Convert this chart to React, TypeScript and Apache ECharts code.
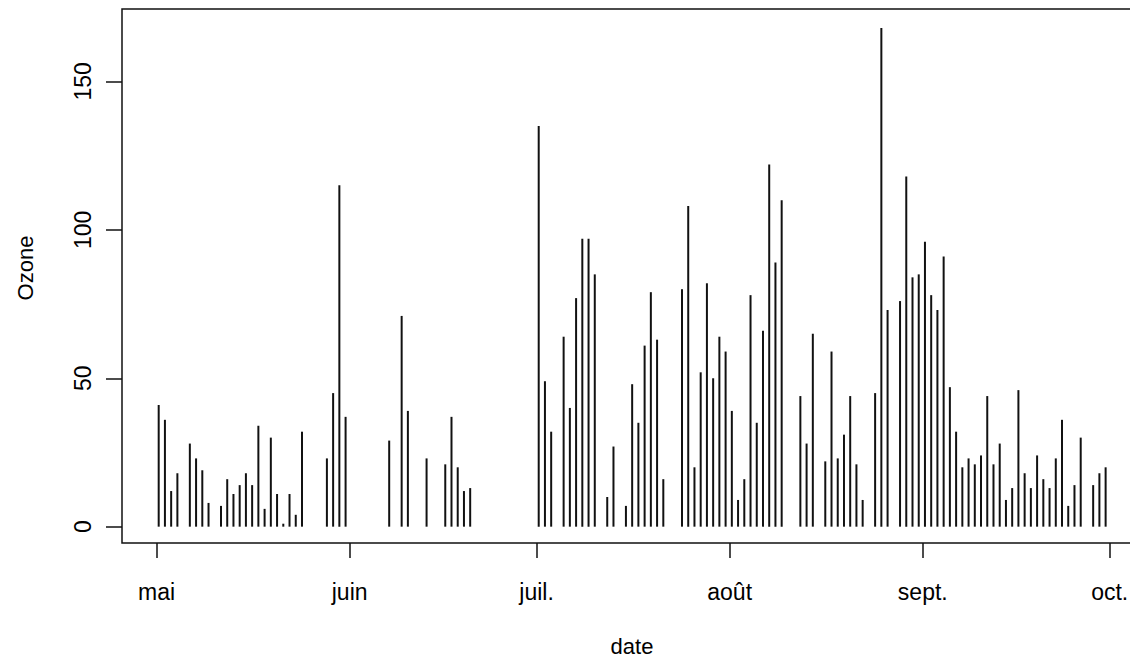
import React, { useEffect, useRef } from "react";
import * as echarts from "echarts";

const mayOzone = [41, 36, 12, 18, null, 28, 23, 19, 8, null, 7, 16, 11, 14, 18, 14, 34, 6, 30, 11, 1, 11, 4, 32, null, null, null, 23, 45, 115, 37];
const juneOzone = [null, null, null, null, null, null, 29, null, 71, 39, null, null, 23, null, null, 21, 37, 20, 12, 13, null, null, null, null, null, null, null, null, null, null];
const julyOzone = [135, 49, 32, null, 64, 40, 77, 97, 97, 85, null, 10, 27, null, 7, 48, 35, 61, 79, 63, 16, null, null, 80, 108, 20, 52, 82, 50, 64, 59];
const augustOzone = [39, 9, 16, 78, 35, 66, 122, 89, 110, null, null, 44, 28, 65, null, 22, 59, 23, 31, 44, 21, 9, null, 45, 168, 73, null, 76, 118, 84, 85];
const septemberOzone = [96, 78, 73, 91, 47, 32, 20, 23, 21, 24, 44, 21, 28, 9, 13, 46, 18, 13, 24, 16, 13, 23, 36, 7, 14, 30, null, 14, 18, 20];

const monthTickDays = [0, 31, 61, 92, 123, 153];
const monthTickLabels = ["mai", "juin", "juil.", "août", "sept.", "oct."];
const yTickValues = [0, 50, 100, 150];
const xTitle = "date";
const yTitle = "Ozone";

const FONT = "'Liberation Sans', Arial, sans-serif";
const TICK_SHIFT = -0.35;

export default function App() {
  const ref = useRef<HTMLDivElement>(null);

  useEffect(() => {
    if (!ref.current) return;
    const chart = echarts.init(ref.current, null, { renderer: "svg" });

    const months = [mayOzone, juneOzone, julyOzone, augustOzone, septemberOzone];
    const data: [number, number][] = [];
    let offset = 0;
    months.forEach((m) => {
      m.forEach((v, i) => {
        if (v !== null) data.push([offset + i, v as number]);
      });
      offset += m.length;
    });

    const tickPos = monthTickDays.map((d) => d + TICK_SHIFT);

    chart.setOption({
      animation: false,
      backgroundColor: "#ffffff",
      grid: {
        left: 122,
        right: 16.5,
        top: 9,
        bottom: 116,
        show: true,
        borderColor: "#111",
        borderWidth: 1.5,
        backgroundColor: "transparent",
      },
      xAxis: {
        type: "value",
        min: -5.89,
        max: 158.08,
        axisLine: { show: false, onZero: false },
        splitLine: { show: false },
        axisTick: {
          show: true,
          customValues: tickPos,
          length: 15,
          lineStyle: { color: "#111", width: 1.5 },
        },
        axisLabel: {
          show: true,
          customValues: tickPos,
          margin: 37,
          fontSize: 23,
          fontFamily: FONT,
          color: "#000",
          formatter: (v: number) => {
            const idx = tickPos.findIndex((t) => Math.abs(t - v) < 0.01);
            return idx >= 0 ? monthTickLabels[idx] : "";
          },
        },
      },
      yAxis: {
        type: "value",
        min: -5.5,
        max: 174.4,
        axisLine: { show: false, onZero: false },
        splitLine: { show: false },
        axisTick: {
          show: true,
          customValues: yTickValues,
          length: 16,
          lineStyle: { color: "#111", width: 1.5 },
        },
        axisLabel: {
          show: true,
          customValues: yTickValues,
          rotate: 90,
          margin: 28,
          fontSize: 23,
          fontFamily: FONT,
          color: "#000",
        },
      },
      graphic: [
        {
          type: "text",
          x: 632,
          y: 646.5,
          style: {
            text: xTitle,
            font: `22px ${FONT}`,
            fill: "#000",
            align: "center",
            verticalAlign: "middle",
          },
        },
        {
          type: "text",
          x: 25,
          y: 268,
          rotation: Math.PI / 2,
          style: {
            text: yTitle,
            font: `22px ${FONT}`,
            fill: "#000",
            align: "center",
            verticalAlign: "middle",
          },
        },
      ],
      series: [
        {
          type: "bar",
          data,
          barWidth: 2,
          itemStyle: { color: "#111" },
          silent: true,
        },
      ],
    });

    return () => chart.dispose();
  }, []);

  return (
    <div
      style={{ position: "fixed", left: 0, top: 0, width: 1130, height: 659, overflow: "hidden", background: "#fff" }}
    >
      <div ref={ref} style={{ width: 1160, height: 659 }} />
    </div>
  );
}
